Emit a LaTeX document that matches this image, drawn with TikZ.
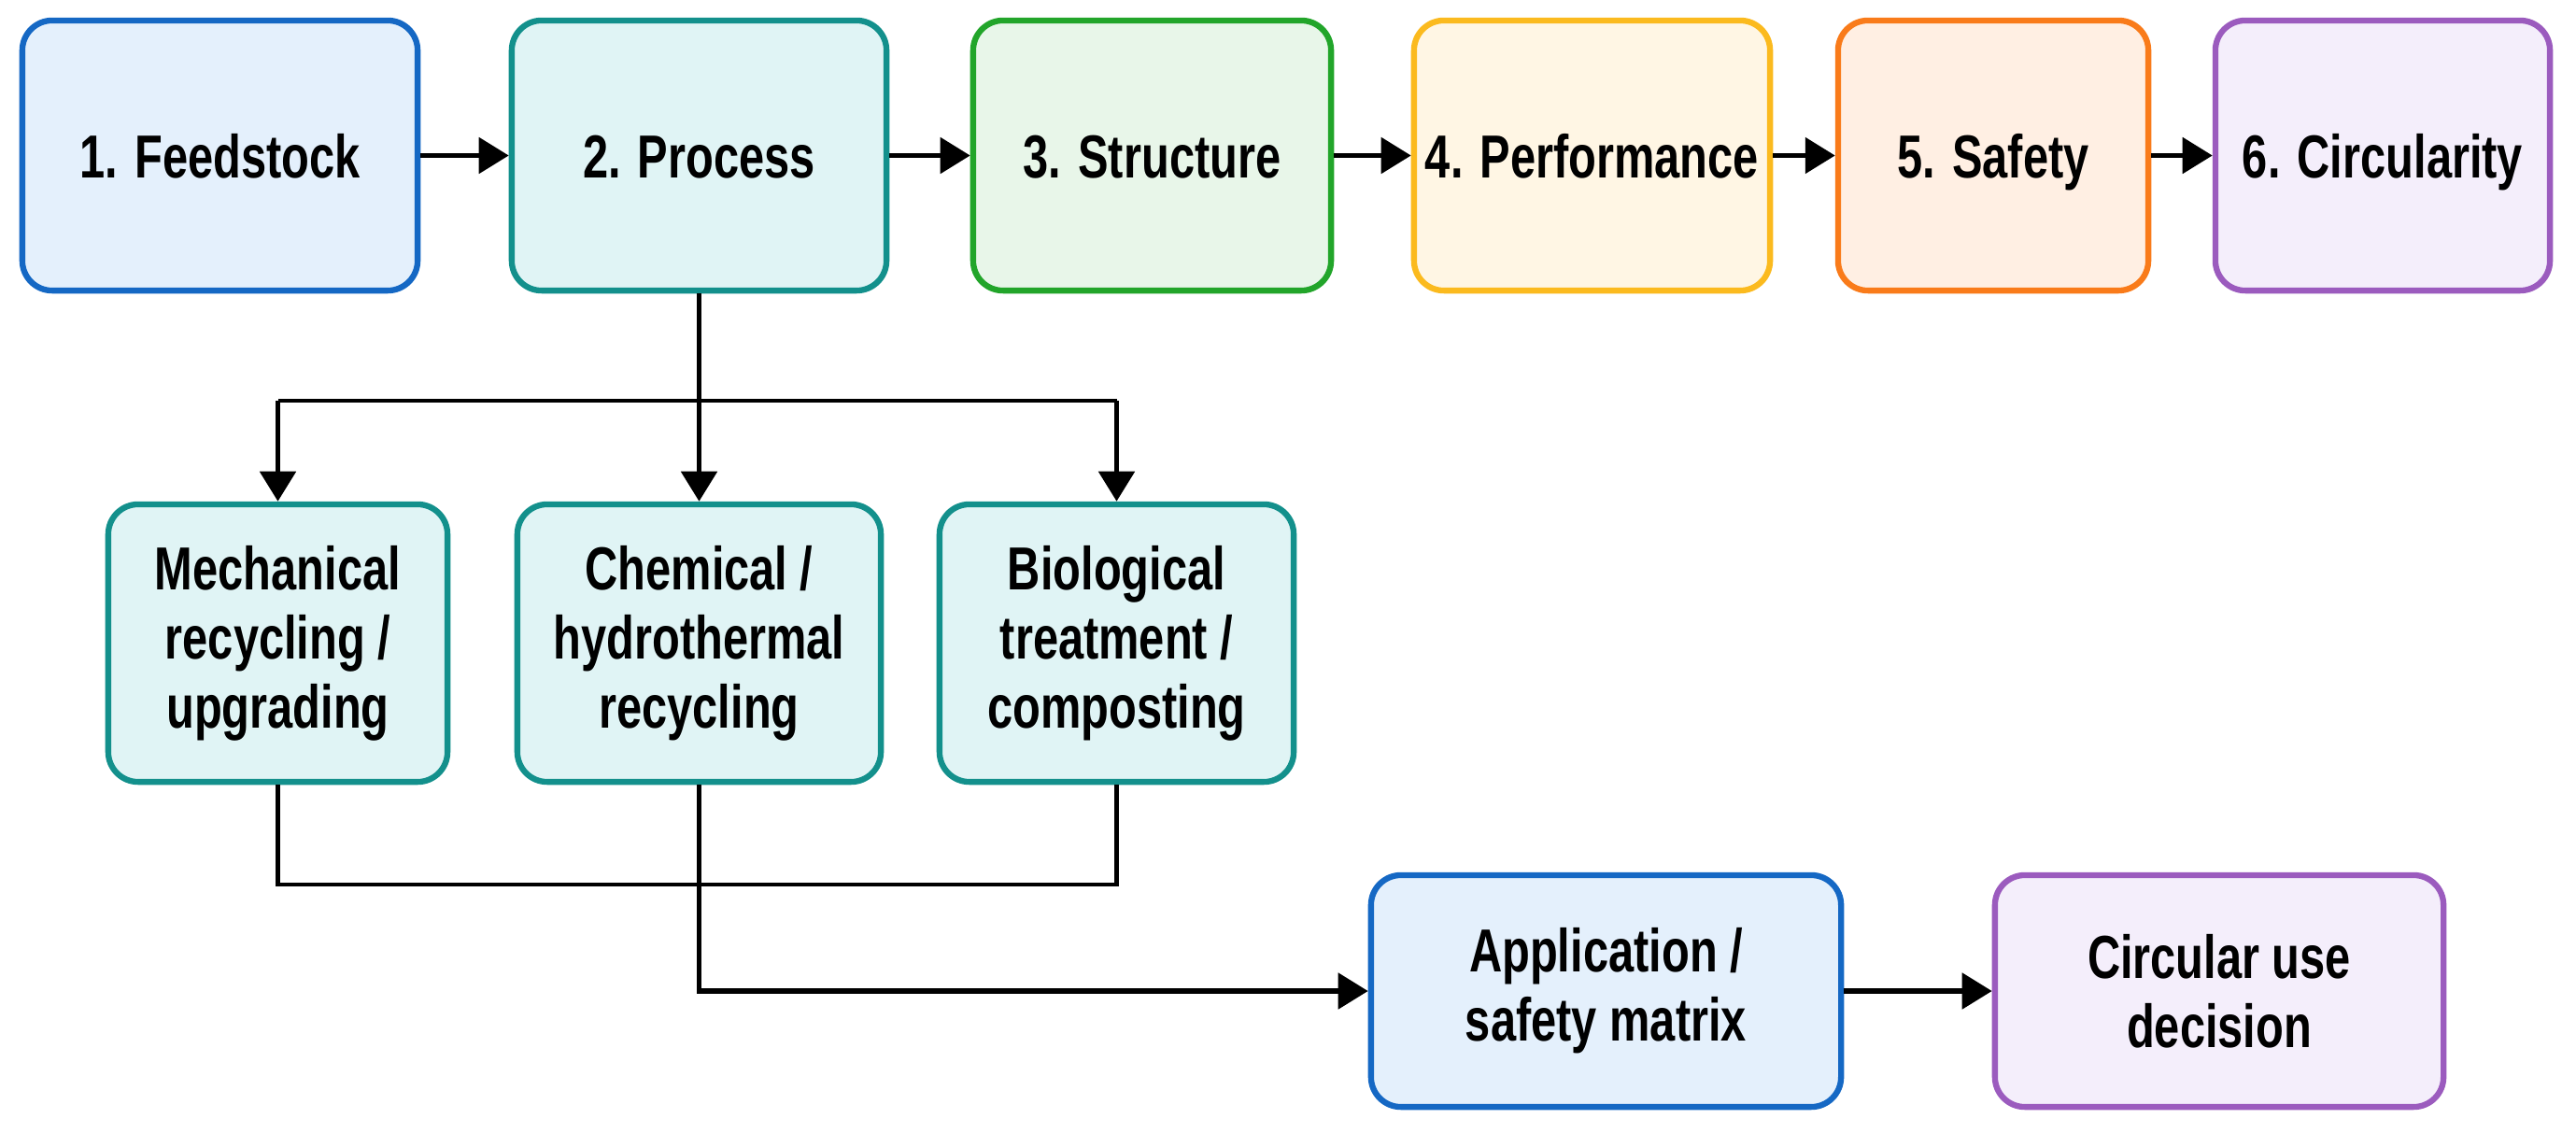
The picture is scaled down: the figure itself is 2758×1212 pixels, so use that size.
\documentclass[tikz,border=0pt]{standalone}
\usepackage{fontspec}
\setmainfont{Liberation Sans}[FakeStretch=0.75]
\usetikzlibrary{arrows.meta}
\definecolor{cblue}{HTML}{1568C4}
\definecolor{fblue}{HTML}{E4F0FC}
\definecolor{cteal}{HTML}{13908C}
\definecolor{fteal}{HTML}{E0F4F5}
\definecolor{cgreen}{HTML}{22A52A}
\definecolor{fgreen}{HTML}{E8F6E9}
\definecolor{cyel}{HTML}{FBBA1E}
\definecolor{fyel}{HTML}{FFF6E4}
\definecolor{corg}{HTML}{F97B1A}
\definecolor{forg}{HTML}{FFEFE3}
\definecolor{cpur}{HTML}{9B5BBE}
\definecolor{fpur}{HTML}{F4EEFB}
\tikzset{
  box/.style={draw, line width=1.8pt, rounded corners=0.32cm, align=center,
    font=\fontsize{18.5}{21}\selectfont\bfseries, inner sep=0pt, text=black},
  topbox/.style={box, minimum height=2.89cm, text height=13.6pt, text depth=0pt},
  arr/.style={line width=1.5pt, -{Triangle[length=0.32cm,width=0.38cm]}},
  ln/.style={line width=1.4pt}
}
\begin{document}
\begin{tikzpicture}[x=0.01cm,y=-0.01cm]
\useasboundingbox[fill=white] (0,0) rectangle (2758,1212);
% top row
\node[topbox, draw=cblue, fill=fblue, minimum width=4.23cm] (f) at (235.5,166.5) {1. Feedstock};
\node[topbox, draw=cteal, fill=fteal, minimum width=4.01cm] (p) at (748.5,166.5) {2. Process};
\node[topbox, draw=cgreen, fill=fgreen, minimum width=3.83cm] (s) at (1233.5,166.5) {3. Structure};
\node[topbox, draw=cyel, fill=fyel, minimum width=3.81cm] (pf) at (1704.5,166.5) {4. Performance};
\node[topbox, draw=corg, fill=forg, minimum width=3.32cm] (sa) at (2134,166.5) {5. Safety};
\node[topbox, draw=cpur, fill=fpur, minimum width=3.58cm] (ci) at (2551,166.5) {6. Circularity};
% middle row
\node[box, draw=cteal, fill=fteal, minimum width=3.63cm, minimum height=2.97cm] (m) at (297.5,688.5) {Mechanical\\recycling /\\upgrading};
\node[box, draw=cteal, fill=fteal, minimum width=3.89cm, minimum height=2.97cm] (c) at (748.5,688.5) {Chemical /\\hydrothermal\\recycling};
\node[box, draw=cteal, fill=fteal, minimum width=3.79cm, minimum height=2.97cm] (b) at (1195.5,688.5) {Biological\\treatment /\\composting};
% bottom row
\node[box, draw=cblue, fill=fblue, minimum width=5.03cm, minimum height=2.48cm] (a) at (1719.5,1061) {Application /\\safety matrix};
\node[box, draw=cpur, fill=fpur, minimum width=4.80cm, minimum height=2.48cm] (cu) at (2376,1061) {Circular use\\decision};
% top arrows
\draw[arr] (f) -- (p);
\draw[arr] (p) -- (s);
\draw[arr] (s) -- (pf);
\draw[arr] (pf) -- (sa);
\draw[arr] (sa) -- (ci);
% split
\coordinate (split) at (748.5,429);
\draw[ln] (p.south) -- (split);
\draw[ln] (m.north |- split) -- (b.north |- split);
\draw[arr] (m.north |- split) -- (m.north);
\draw[arr] (split) -- (c.north);
\draw[arr] (b.north |- split) -- (b.north);
% merge
\coordinate (merge) at (748.5,947);
\draw[ln] (m.south) -- (m.south |- merge) -- (b.south |- merge) -- (b.south);
\draw[arr] (c.south) -- (c.south |- a.west) -- (a.west);
\draw[arr] (a) -- (cu);
\end{tikzpicture}
\end{document}
